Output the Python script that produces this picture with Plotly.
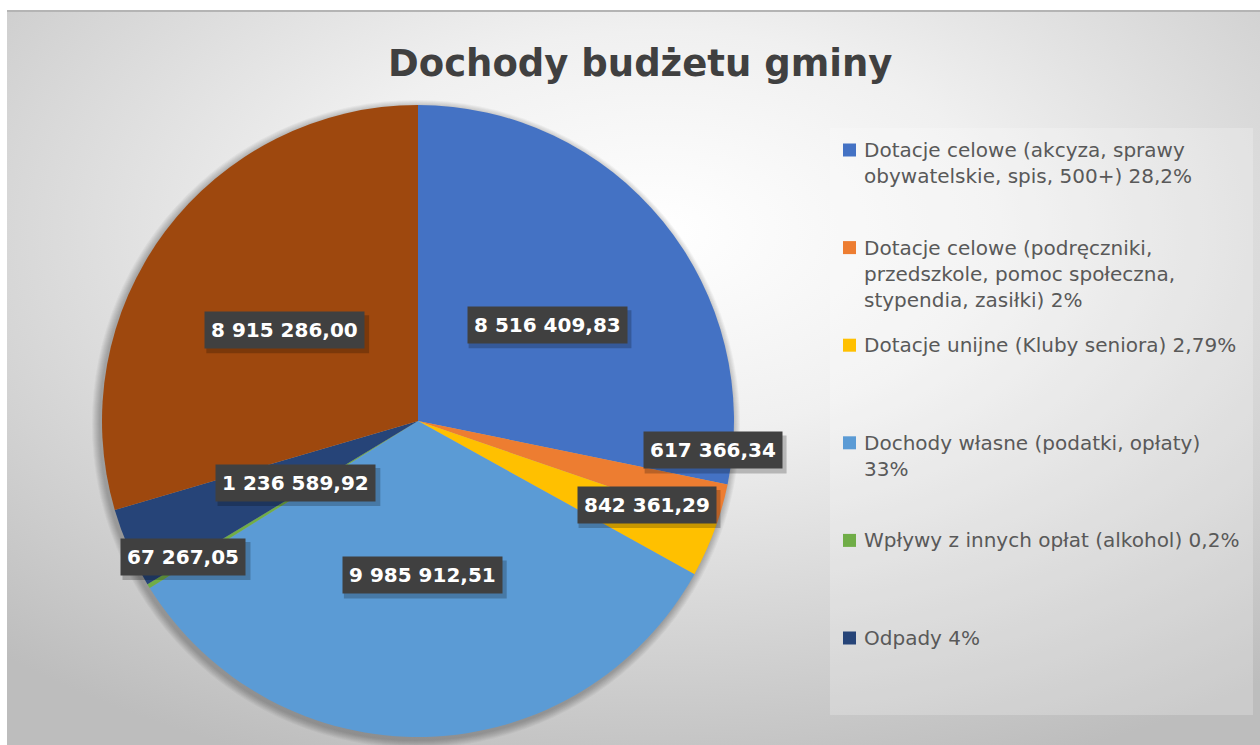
import base64
import math
import plotly.graph_objects as go

W, H = 1260, 745

# --- dane ---
categories = [
    "Dotacje celowe (akcyza, sprawy obywatelskie, spis, 500+)",
    "Dotacje celowe (podręczniki, przedszkole, pomoc społeczna, stypendia, zasiłki)",
    "Dotacje unijne (Kluby seniora)",
    "Dochody własne (podatki, opłaty)",
    "Wpływy z innych opłat (alkohol)",
    "Odpady",
    "—",
]
values = [8516409.83, 617366.34, 842361.29, 9985912.51, 67267.05, 1236589.92, 8915286.00]
legend_texts = [
    "Dotacje celowe (akcyza, sprawy<br>obywatelskie, spis, 500+) 28,2%",
    "Dotacje celowe (podręczniki,<br>przedszkole, pomoc społeczna,<br>stypendia, zasiłki) 2%",
    "Dotacje unijne (Kluby seniora) 2,79%",
    "Dochody własne (podatki, opłaty)<br>33%",
    "Wpływy z innych opłat (alkohol) 0,2%",
    "Odpady 4%",
]
title = "Dochody budżetu gminy"

# --- styl ---
colors = ["#4472C4", "#ED7D31", "#FFC000", "#5B9BD5", "#70AD47", "#264478", "#9E480E"]
label_r = [0.50, 0.89, 0.74, 0.51, 0.835, 0.42, 0.50]      # odległość etykiety od środka
label_turn = [0, -9, -2, 0, -1, -5.5, 0]                     # korekta kąta (stopnie)

CX, CY, R = 418, 421, 316       # środek i promień koła (piksele)
RX, RY = 333, 303               # rozmiar do rozmieszczenia etykiet
FS = 20                         # rozmiar czcionki etykiet


def px(x):
    return x / W


def py(y):
    return 1 - y / H


def pl_num(v):
    return f"{v:,.2f}".replace(",", " ").replace(".", ",")


def text_w(s):
    # przybliżona szerokość DejaVu Sans Bold
    w = {" ": 0.348, ",": 0.38}
    return sum(w.get(ch, 0.696) for ch in s) * FS


# tło: gradient radialny jako obraz svg
svg = (
    "<svg xmlns='http://www.w3.org/2000/svg' width='1253' height='735' viewBox='0 0 1253 735' "
    "preserveAspectRatio='none'><defs><radialGradient id='g' cx='0.52' cy='0.3' r='0.78'>"
    "<stop offset='0' stop-color='#ffffff'/><stop offset='0.35' stop-color='#f0f0f0'/>"
    "<stop offset='1' stop-color='#bdbdbd'/></radialGradient></defs>"
    "<rect width='1253' height='735' fill='url(#g)'/></svg>"
)
bg_src = "data:image/svg+xml;base64," + base64.b64encode(svg.encode()).decode()

fig = go.Figure(go.Pie(
    values=values, labels=categories, sort=False, direction="clockwise", rotation=0,
    marker=dict(colors=colors, line=dict(width=0)), textinfo="none", showlegend=False,
    domain=dict(x=[px(CX - R), px(CX + R)], y=[py(CY + R), py(CY - R)]),
))

shapes = []
# cień koła
for k in range(8, 0, -1):
    shapes.append(dict(type="circle", xref="paper", yref="paper", layer="below",
                       x0=px(CX - R - k - 2), x1=px(CX + R + k - 2),
                       y0=py(CY + R + k + 3), y1=py(CY - R - k + 3),
                       fillcolor="rgba(0,0,0,0.035)", line=dict(width=0)))
# linia u góry
shapes.append(dict(type="line", xref="paper", yref="paper", x0=px(7), x1=1, y0=py(11), y1=py(11),
                   line=dict(color="#b4b4b4", width=2)))
# ramka legendy
shapes.append(dict(type="rect", xref="paper", yref="paper", layer="below",
                   x0=px(830), x1=px(1253), y0=py(715), y1=py(128),
                   fillcolor="rgba(255,255,255,0.22)", line=dict(width=0)))

annotations = [dict(text=f"<b>{title}</b>", x=px(640), y=py(63), xref="paper", yref="paper",
                    xanchor="center", yanchor="middle", showarrow=False,
                    font=dict(family="DejaVu Sans", size=37, color="#404040"))]

# etykiety wartości
total = sum(values)
cum = 0.0
for i, v in enumerate(values):
    mid = (cum + v / 2) / total * 360 + label_turn[i]
    cum += v
    a = math.radians(mid)
    lx = CX + label_r[i] * RX * math.sin(a)
    ly = CY - label_r[i] * RY * math.cos(a)
    txt = pl_num(v)
    hw = text_w(txt) / 2 + 8
    # cień etykiety
    shapes.append(dict(type="rect", xref="paper", yref="paper",
                       x0=px(lx - hw + 3), x1=px(lx + hw + 3), y0=py(ly + 23), y1=py(ly - 15),
                       fillcolor="rgba(0,0,0,0.22)", line=dict(width=0)))
    annotations.append(dict(text=txt, x=px(lx), y=py(ly), xref="paper", yref="paper", showarrow=False,
                            xanchor="center", yanchor="middle", borderpad=6, bgcolor="#404040",
                            font=dict(family="DejaVu Sans", size=FS, color="white", weight="bold")))

# legenda ręczna (bez ostatniego wycinka)
for i, t in enumerate(legend_texts):
    yy = 150 + i * 97.6
    shapes.append(dict(type="rect", xref="paper", yref="paper", x0=px(843), x1=px(856),
                       y0=py(yy + 6.5), y1=py(yy - 6.5), fillcolor=colors[i], line=dict(width=0)))
    annotations.append(dict(text=t, x=px(862), y=py(yy - 14), xref="paper", yref="paper",
                            xanchor="left", yanchor="top", align="left", showarrow=False,
                            font=dict(family="DejaVu Sans", size=20, color="#595959")))

fig.update_layout(
    width=W, height=H, autosize=False, margin=dict(l=0, r=0, t=0, b=0),
    paper_bgcolor="white", plot_bgcolor="white",
    images=[dict(source=bg_src, xref="paper", yref="paper", x=px(7), y=py(11),
                 sizex=1 - px(7), sizey=py(11), sizing="stretch", xanchor="left", yanchor="top",
                 layer="below")],
    shapes=shapes, annotations=annotations,
)

fig.write_html("out.html", config={"displayModeBar": False},
               post_script="document.body.style.margin='0';")
